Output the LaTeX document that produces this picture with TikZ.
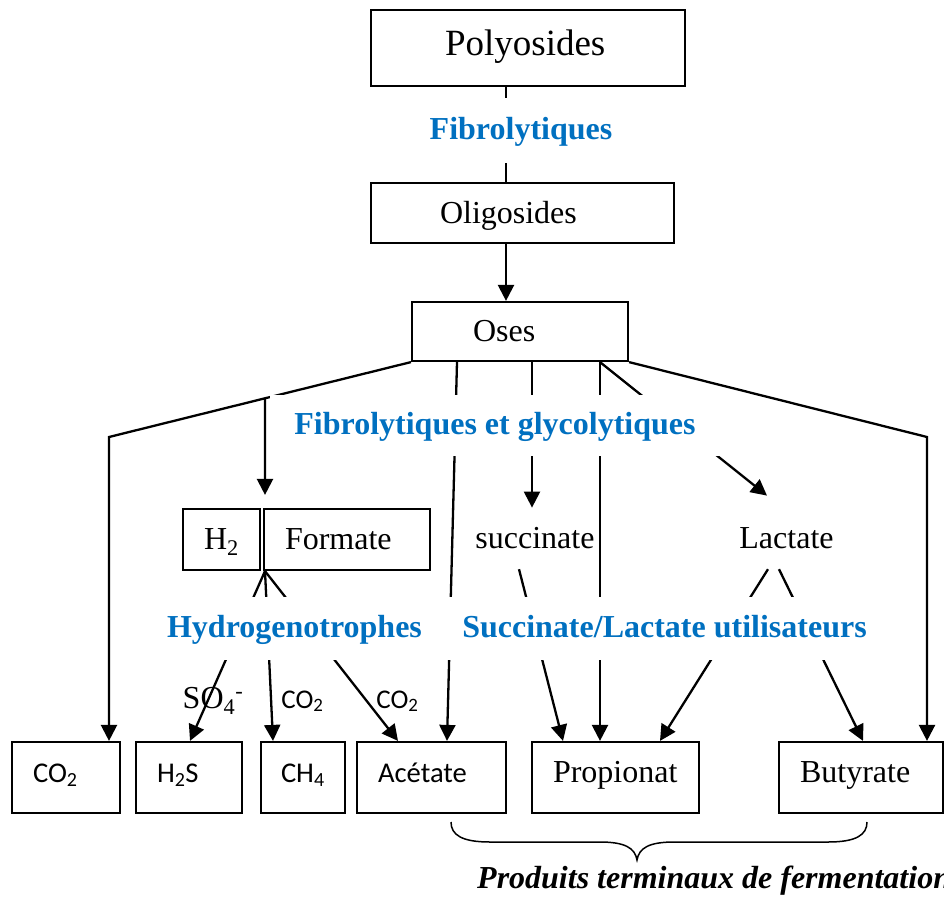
\documentclass[tikz,border=0pt]{standalone}
\usepackage{fontspec}
\setmainfont{Liberation Serif}
\newfontfamily\calibri{Carlito}
\usetikzlibrary{calc,arrows.meta}

\definecolor{bleu}{HTML}{0070C0}

\tikzset{
  box/.style={draw, line width=2.2pt, inner ysep=0pt, align=left,
    font=\fontsize{32}{38}\selectfont, text height=26pt, text depth=6pt},
  prod/.style={box, minimum height=71pt, inner xsep=21pt, text height=20pt, text depth=11pt},
  cal/.style={font=\calibri\fontsize{28.6}{34}\selectfont},
  grp/.style={fill=white, text=bleu, inner sep=0pt,
    font=\bfseries\fontsize{32}{38}\selectfont, text height=25pt, text depth=7pt},
  mot/.style={font=\fontsize{32}{38}\selectfont, anchor=base, inner xsep=0pt,
    inner ysep=14.6pt, text height=25.6pt, text depth=6.4pt},
  arr/.style={line width=2.3pt, -{Triangle[width=16pt,length=16pt]}},
  lin/.style={line width=2.3pt},
}

\begin{document}
\begin{tikzpicture}[x=1pt, y=-1pt]

  \useasboundingbox (0,0) rectangle (944,897);

  % Top chain
  \node[box, minimum height=76pt, inner xsep=74pt, text width=166pt,
    font=\fontsize{37}{44}\selectfont, text depth=12pt] (poly) at (528,48) {Polyosides};
  \node[box, minimum height=60pt, inner xsep=69pt, text width=165pt] (oligo) at (522.5,213) {Oligosides};
  \node[box, minimum height=59pt, inner xsep=61pt, text width=94pt] (oses) at (520,331.5) {Oses};

  % Intermediates
  \node[box, minimum width=77pt, minimum height=61pt] (h2) at (221.5,539.5) {H\textsubscript{2}};
  \node[box, minimum height=61pt, inner xsep=21pt, text width=124pt] (formate) at (347,539.5) {Formate};
  \node[mot] (succ) at (535,548) {succinate};
  \node[mot] (lact) at (786.5,548) {Lactate};

  % End products
  \node[prod, cal, text width=66pt] (co2) at (66,777.5) {CO\textsubscript{2}};
  \node[prod, cal, text width=64pt] (h2s) at (189,777.5) {H\textsubscript{2}S};
  \node[prod, cal, inner xsep=20pt, text width=44pt] (ch4) at (303,777.5) {CH\textsubscript{4}};
  \node[prod, cal, text width=107pt] (acet) at (431.5,777.5) {Acétate};
  \node[prod, text width=125pt] (prop) at (615.5,777.5) {Propionat};
  \node[prod, text width=122pt] (buty) at (861,777.5) {Butyrate};

  % Bends and junctions
  \coordinate (cL) at (109,437);
  \coordinate (cR) at (927,437);
  \coordinate (cH) at (265,398);
  \coordinate (hTop) at ($(h2.north east)!0.5!(formate.north west)+(3,-13)$);
  \coordinate (hBot) at ($(h2.south east)!0.5!(formate.south west)+(3,0)$);

  % Connectors
  \draw[lin] ([xshift=-22pt]poly.south) -- ([xshift=-16.5pt]oligo.north);
  \draw[arr] ([xshift=-16.5pt]oligo.south) -- ([xshift=-14pt]oses.north);

  \draw[arr] (oses.south west) -- (cL) -- ([xshift=43pt]co2.north);
  \draw[arr] (cH) -- (hTop);
  \draw[arr] ([xshift=-63pt]oses.south) -- ([xshift=15.5pt]acet.north);
  \draw[arr] ([xshift=12pt]oses.south) -- ([xshift=-3pt]succ.north);
  \draw[arr] ([xshift=80pt]oses.south) -- ([xshift=-15.5pt]prop.north);
  \draw[arr] ([xshift=80pt]oses.south) -- ([xshift=-19.5pt,yshift=12pt]lact.north);
  \draw[arr] (oses.south east) -- (cR) -- ([xshift=66pt]buty.north);

  \draw[arr] (hBot) -- ([xshift=1pt]h2s.north);
  \draw[arr] (hBot) -- ([xshift=-30pt]ch4.north);
  \draw[arr] (hBot) -- ([xshift=-33.5pt]acet.north);

  \draw[arr] ([xshift=-16pt]succ.south) -- ([xshift=-52.5pt]prop.north);
  \draw[arr] ([xshift=-18.5pt]lact.south) -- ([xshift=44.5pt]prop.north);
  \draw[arr] ([xshift=-7.5pt]lact.south) -- ([xshift=2pt]buty.north);

  % Groups of bacteria (white bands over the lines)
  \node[grp, minimum height=65pt] (fib) at (521,130.5) {Fibrolytiques};
  \node[grp, minimum width=450pt, minimum height=61pt] (fibgly) at (495,425.5) {Fibrolytiques et glycolytiques};
  \node[grp, minimum height=63pt] (hydro) at (294.5,628.5) {Hydrogenotrophes};
  \node[grp, minimum width=439pt, minimum height=63pt] (succlac) at (664.5,628.5) {Succinate/Lactate utilisateurs};

  % Co-substrates
  \node[mot, inner ysep=0pt] (so4) at (213,708) {SO\textsubscript{4}\textsuperscript{-}};
  \node[mot, cal, font=\calibri\fontsize{27}{32}\selectfont, inner ysep=0pt] (co2a) at (302.5,708) {CO\textsubscript{2}};
  \node[mot, cal, font=\calibri\fontsize{27}{32}\selectfont, inner ysep=0pt] (co2b) at (397.5,708) {CO\textsubscript{2}};

  % Brace
  \draw[line width=1.5pt] (451,822) .. controls (451,835) and (462,842) .. (490,842) -- (600,842)
    .. controls (625,842) and (635,848) .. (637,860)
    .. controls (639,848) and (649,842) .. (674,842) -- (828,842)
    .. controls (856,842) and (867,835) .. (867,822);
  \node[font=\bfseries\itshape\fontsize{32}{38}\selectfont, anchor=base west, inner sep=0pt]
    (prodterm) at (477,888) {Produits terminaux de fermentation};

\end{tikzpicture}
\end{document}
